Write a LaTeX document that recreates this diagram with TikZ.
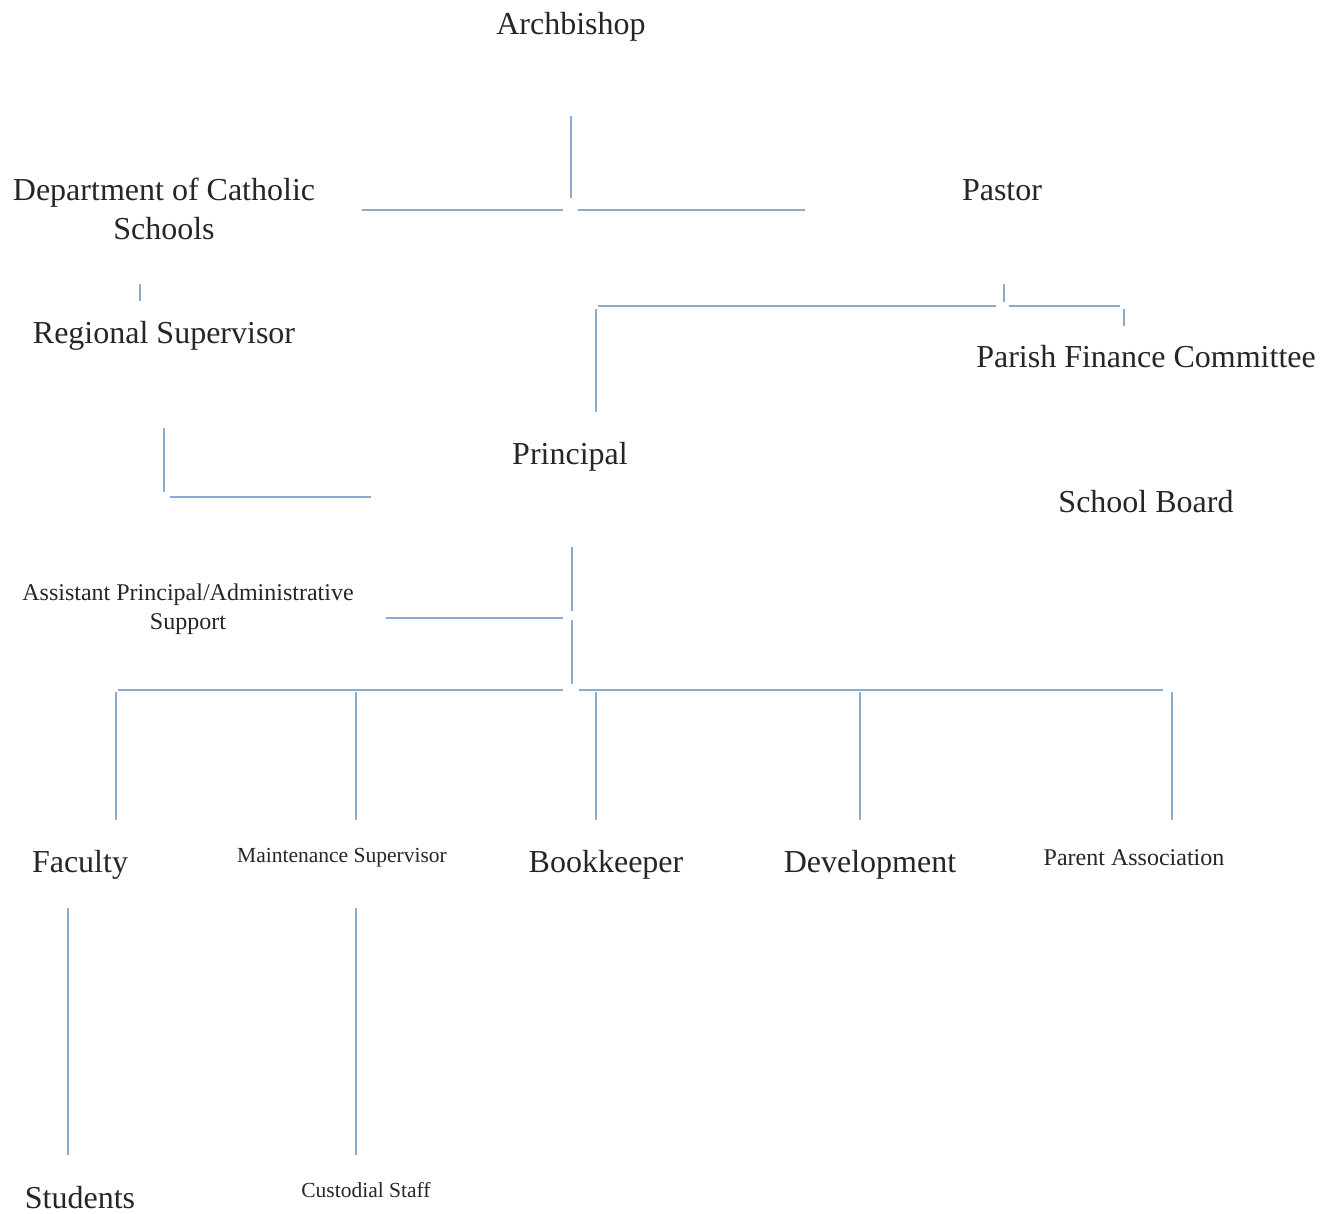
\documentclass[tikz,border=0pt]{standalone}
\usepackage{fontspec}
\setmainfont{Liberation Serif}
\definecolor{linkblue}{RGB}{138,170,210}
\begin{document}
\begin{tikzpicture}[x=1pt,y=-1pt,
  lbl/.style={inner sep=0pt,anchor=base,text=black!85,align=center},
  big/.style={lbl,font=\fontsize{32}{39}\selectfont},
  mid/.style={lbl,font=\fontsize{24}{29}\selectfont},
  small/.style={lbl,font=\fontsize{21.5}{26}\selectfont},
  link/.style={draw=linkblue,line width=1.7pt}]
\useasboundingbox[fill=white] (0,0) rectangle (1335,1214);

% nodes
\node[big]   (arch)  at (571,35)   {Archbishop};
\node[big]   (dept)  at (164,240)  {Department of Catholic\\Schools};
\node[big]   (past)  at (1002,201) {Pastor};
\node[big]   (reg)   at (164,344)  {Regional Supervisor};
\node[big]   (pfc)   at (1146,367) {Parish Finance Committee};
\node[big]   (prin)  at (570,464)  {Principal};
\node[big]   (board) at (1146,512) {School Board};
\node[mid]   (asst)  at (188,629)  {Assistant Principal/Administrative\\Support};
\node[big]   (fac)   at (80,872)   {Faculty};
\node[small] (maint) at (342,862)  {Maintenance Supervisor};
\node[big]   (book)  at (606,872)  {Bookkeeper};
\node[big]   (dev)   at (870,872)  {Development};
\node[mid]   (par)   at (1134,865) {Parent Association};
\node[big]   (stud)  at (80,1208)  {Students};
\node[small] (cust)  at (366,1197) {Custodial Staff};

% connector end points
\coordinate (a1) at (571,116);  \coordinate (a2) at (571,198);
\coordinate (h1) at (362,210);  \coordinate (h2) at (563,210);
\coordinate (h3) at (578,210);  \coordinate (h4) at (805,210);
\coordinate (d1) at (140,284);  \coordinate (d2) at (140,301);
\coordinate (p1) at (1004,284); \coordinate (p2) at (1004,302);
\coordinate (p3) at (598,306);  \coordinate (p4) at (996,306);
\coordinate (p5) at (1009,306); \coordinate (p6) at (1120,306);
\coordinate (p7) at (1124,309); \coordinate (p8) at (1124,326);
\coordinate (p9) at (596,309);  \coordinate (p10) at (596,412);
\coordinate (r1) at (164,428);  \coordinate (r2) at (164,492);
\coordinate (r3) at (170,497);  \coordinate (r4) at (371,497);
\coordinate (q1) at (572,547);  \coordinate (q2) at (572,611);
\coordinate (q3) at (386,618);  \coordinate (q4) at (563,618);
\coordinate (q5) at (572,620);  \coordinate (q6) at (572,684);
\coordinate (b1) at (118,690);  \coordinate (b2) at (563,690);
\coordinate (b3) at (579,690);  \coordinate (b4) at (1163,690);
\coordinate (f1) at (116,692);  \coordinate (f2) at (116,820);
\coordinate (m1) at (356,692);  \coordinate (m2) at (356,820);
\coordinate (k1) at (596,692);  \coordinate (k2) at (596,820);
\coordinate (v1) at (860,692);  \coordinate (v2) at (860,820);
\coordinate (x1) at (1172,692); \coordinate (x2) at (1172,820);
\coordinate (s1) at (68,908);   \coordinate (s2) at (68,1155);
\coordinate (c1) at (356,908);  \coordinate (c2) at (356,1155);

% connectors
\draw[link] (a1) -- (a2);
\draw[link] (h1) -- (h2);
\draw[link] (h3) -- (h4);
\draw[link] (d1) -- (d2);
\draw[link] (p1) -- (p2);
\draw[link] (p3) -- (p4);
\draw[link] (p5) -- (p6);
\draw[link] (p7) -- (p8);
\draw[link] (p9) -- (p10);
\draw[link] (r1) -- (r2);
\draw[link] (r3) -- (r4);
\draw[link] (q1) -- (q2);
\draw[link] (q3) -- (q4);
\draw[link] (q5) -- (q6);
\draw[link] (b1) -- (b2);
\draw[link] (b3) -- (b4);
\draw[link] (f1) -- (f2);
\draw[link] (m1) -- (m2);
\draw[link] (k1) -- (k2);
\draw[link] (v1) -- (v2);
\draw[link] (x1) -- (x2);
\draw[link] (s1) -- (s2);
\draw[link] (c1) -- (c2);
\end{tikzpicture}
\end{document}
